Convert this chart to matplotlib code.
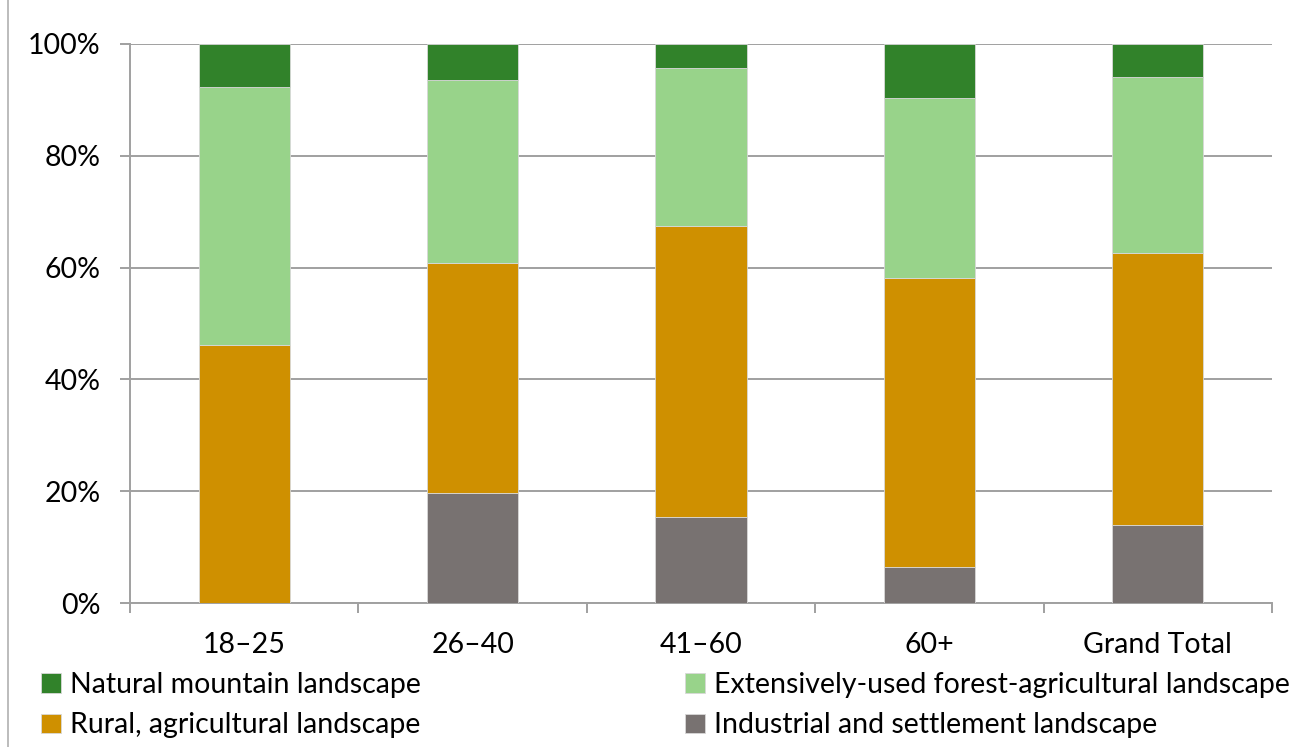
import matplotlib.pyplot as plt
import numpy as np
from matplotlib.ticker import PercentFormatter, FixedLocator

plt.rcParams['font.family'] = ['Lato', 'DejaVu Sans']

groups = ['18–25', '26–40', '41–60', '60+', 'Grand Total']
industrial = [0.0, 19.7, 15.4, 6.4, 14.0]
rural = [46.2, 41.1, 52.0, 51.7, 48.6]
extensive = [46.1, 32.8, 28.3, 32.2, 31.5]
natural = [7.7, 6.4, 4.3, 9.7, 5.9]

series = [
    ('Industrial and settlement landscape', industrial, '#787271'),
    ('Rural, agricultural landscape', rural, '#CF9000'),
    ('Extensively-used forest-agricultural landscape', extensive, '#98D38A'),
    ('Natural mountain landscape', natural, '#31822A'),
]

fig = plt.figure(figsize=(13.06, 7.47), dpi=100)
ax = fig.add_axes([130 / 1306, 1 - 603 / 747, 1142 / 1306, 559 / 747])

x = np.arange(len(groups))
bottom = np.zeros(len(groups))
bars = {}
for name, vals, col in series:
    vals = np.array(vals)
    bars[name] = ax.bar(x, vals, 0.4, bottom=bottom, color=col,
                        edgecolor='#d8d8d8', linewidth=0.6, zorder=3, label=name)
    bottom += vals

ax.set_xlim(-0.5, len(groups) - 0.5)
ax.set_ylim(0, 100)
ax.set_yticks(np.arange(0, 101, 20))
ax.yaxis.set_major_formatter(PercentFormatter(decimals=0))
ax.grid(axis='y', color='#a0a0a0', linewidth=1.4, zorder=0)

ax.set_xticks(x)
ax.set_xticklabels(groups)
ax.xaxis.set_minor_locator(FixedLocator(np.arange(-0.5, len(groups), 1.0)))
ax.tick_params(axis='x', which='major', length=0, pad=21, labelsize=20.5)
ax.tick_params(axis='x', which='minor', length=7, width=1.4, color='#a0a0a0')
ax.tick_params(axis='y', length=7, width=1.4, color='#a0a0a0', pad=14, labelsize=20.5)

for s in ['top', 'right']:
    ax.spines[s].set_visible(False)
ax.spines['left'].set_color('#a0a0a0')
ax.spines['left'].set_linewidth(1.4)
ax.spines['bottom'].set_color('#a0a0a0')
ax.spines['bottom'].set_linewidth(1.4)

# legend: two rows, two columns
order = ['Natural mountain landscape', 'Rural, agricultural landscape',
         'Extensively-used forest-agricultural landscape',
         'Industrial and settlement landscape']
fig.legend([bars[n] for n in order], order, ncol=2, loc='upper left',
           bbox_to_anchor=(27 / 1306, 1 - 658 / 747), frameon=False,
           fontsize=20.5, handlelength=0.7, handleheight=0.7, handletextpad=0.3,
           columnspacing=9.3, labelspacing=0.5, borderpad=0)

# outer chart border on the left
fig.add_artist(plt.Line2D([8 / 1306, 8 / 1306], [0, 1], color='#b0b0b0', linewidth=1.2))

fig.savefig('out.png', dpi=100)
